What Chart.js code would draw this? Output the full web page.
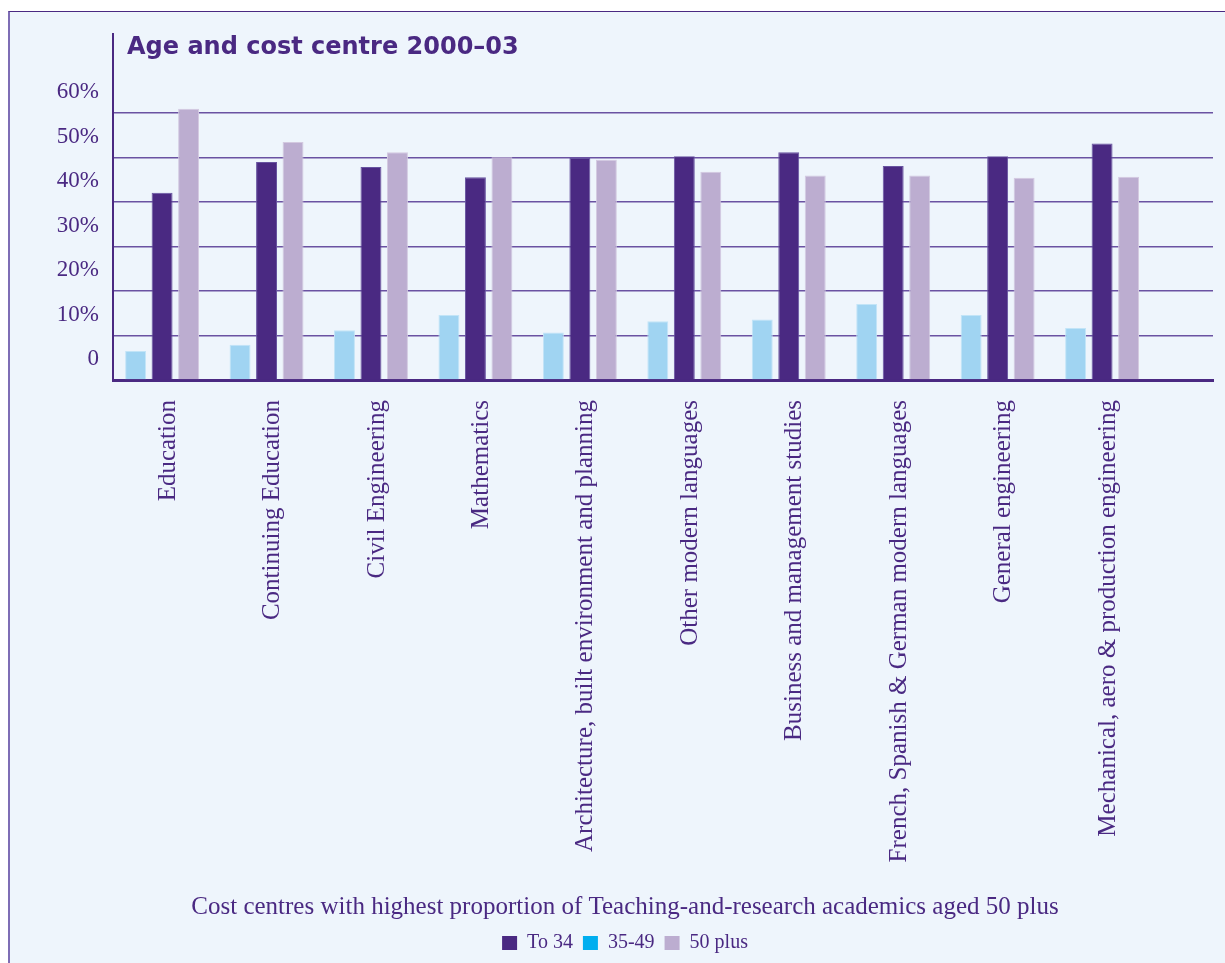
<!DOCTYPE html>
<html>
<head>
<meta charset="utf-8">
<title>Age and cost centre 2000–03</title>
<script src="https://cdn.jsdelivr.net/npm/chart.js@4"></script>
<style>
  html, body { margin: 0; padding: 0; background: #ffffff; }
  .panel {
    position: absolute; left: 8px; top: 11px; right: 0; bottom: 0;
    background: #eef5fc;
    border-top: 1.5px solid #4a2982;
    border-left: 2px solid #7e6db5;
  }
  #chart { position: absolute; left: 0; top: 0; }
</style>
</head>
<body>
<div class="panel"></div>
<canvas id="chart" width="1225" height="963"></canvas>
<script>
// Cost centres, in the order shown
const categories = [
  "Education",
  "Continuing Education",
  "Civil Engineering",
  "Mathematics",
  "Architecture, built environment and planning",
  "Other modern languages",
  "Business and management studies",
  "French, Spanish & German modern languages",
  "General engineering",
  "Mechanical, aero & production engineering"
];

// Share of teaching-and-research academics (%) by age band
const to34 = [42.1, 49.0, 47.9, 45.6, 49.9, 50.3, 51.2, 48.1, 50.3, 53.2];
const age35to49 = [6.5, 7.9, 11.2, 14.6, 10.7, 13.2, 13.6, 17.1, 14.6, 11.7];
const plus50 = [61.0, 53.5, 51.2, 50.1, 49.5, 46.8, 46.0, 46.0, 45.5, 45.7];

const yTicks = [0, 10, 20, 30, 40, 50, 60];

const purple = "#4a2982";
const serif = "'Liberation Serif', 'DejaVu Serif', serif";

// bars are drawn light blue, dark, lavender; legend lists dark first
const legendOrder = ["To 34", "35-49", "50 plus"];
const legendColours = { "To 34": "#4a2982", "35-49": "#00aeef", "50 plus": "#bcadd0" };

const toPoints = (values) => values.map((v, i) => ({ x: i, y: v }));

// Heading drawn in the top-left of the plot area
const headingPlugin = {
  id: "heading",
  afterDraw(chart) {
    const { ctx, chartArea } = chart;
    ctx.save();
    ctx.font = "bold 24px 'DejaVu Sans', sans-serif";
    ctx.fillStyle = purple;
    ctx.textAlign = "left";
    ctx.textBaseline = "alphabetic";
    ctx.fillText("Age and cost centre 2000–03", chartArea.left + 14, chartArea.top + 20);
    ctx.restore();
  }
};

new Chart(document.getElementById("chart"), {
  type: "bar",
  data: {
    datasets: [
      {
        label: "35-49",
        data: toPoints(age35to49),
        backgroundColor: "#a0d4f2",
        borderColor: "#c2e4f7",
        borderWidth: 1
      },
      {
        label: "To 34",
        data: toPoints(to34),
        backgroundColor: "#4a2982",
        borderColor: "#6753a0",
        borderWidth: 1
      },
      {
        label: "50 plus",
        data: toPoints(plus50),
        backgroundColor: "#bcadd0",
        borderColor: "#d3c9e0",
        borderWidth: 1
      }
    ]
  },
  options: {
    responsive: false,
    animation: false,
    devicePixelRatio: 1,
    categoryPercentage: 0.761,
    barPercentage: 0.79,
    layout: { padding: { left: 37, right: 12, top: 34, bottom: 0 } },
    scales: {
      x: {
        type: "linear",
        offset: false,
        min: -0.47,
        max: 10.062,
        z: 1,
        grid: { display: false, drawTicks: false },
        border: { display: true, color: purple, width: 3 },
        afterBuildTicks: (scale) => {
          scale.ticks = categories.map((c, i) => ({ value: i }));
        },
        afterFit: (scale) => {
          scale.height = 512;
        },
        ticks: {
          autoSkip: false,
          minRotation: 90,
          maxRotation: 90,
          padding: 20,
          labelOffset: 6,
          color: purple,
          font: { family: serif, size: 25 },
          callback: (value) => categories[value]
        }
      },
      y: {
        min: 0,
        max: 77.8,
        afterBuildTicks: (scale) => {
          scale.ticks = yTicks.map((v) => ({ value: v }));
        },
        afterFit: (scale) => {
          scale.width = 76;
        },
        grid: { color: "#6a52a2", lineWidth: 1.5, drawTicks: false },
        border: { display: true, color: purple, width: 2 },
        ticks: {
          padding: 14,
          labelOffset: -21,
          color: purple,
          font: { family: serif, size: 23 },
          callback: (value) => (value === 0 ? "0" : value + "%")
        }
      }
    },
    plugins: {
      tooltip: { enabled: false },
      title: {
        display: true,
        position: "bottom",
        weight: 500,
        text: "Cost centres with highest proportion of Teaching-and-research academics aged 50 plus",
        color: purple,
        font: { family: serif, size: 25, weight: "normal" },
        padding: { top: 0, bottom: 1 }
      },
      legend: {
        position: "bottom",
        labels: {
          boxWidth: 15,
          boxHeight: 14,
          padding: 10,
          color: purple,
          font: { family: serif, size: 20 },
          generateLabels: (chart) =>
            Chart.defaults.plugins.legend.labels.generateLabels(chart).map((item) => ({
              ...item,
              fillStyle: legendColours[item.text],
              strokeStyle: legendColours[item.text],
              lineWidth: 0
            })),
          sort: (a, b) => legendOrder.indexOf(a.text) - legendOrder.indexOf(b.text)
        }
      }
    }
  },
  plugins: [headingPlugin]
});
</script>
</body>
</html>
